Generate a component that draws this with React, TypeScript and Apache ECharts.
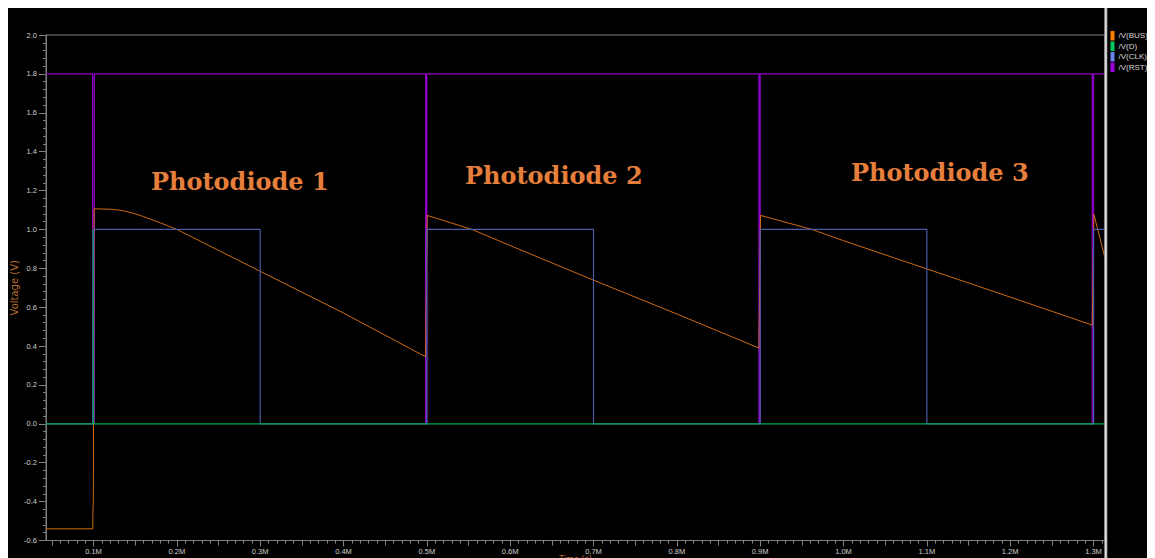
import React, { useEffect, useRef } from "react";
import * as echarts from "echarts";

// ---- axis ranges / ticks ----
const X_MIN = 0.043;
const X_MAX = 1.3138;
const Y_MIN = -0.6;
const Y_MAX = 2.0;
const Y_STEP = 0.2;

const xMajorTicks = [0.1, 0.2, 0.3, 0.4, 0.5, 0.6, 0.7, 0.8, 0.9, 1.0, 1.1, 1.2, 1.3];
const xMidTicks = [0.05, 0.15, 0.25, 0.35, 0.45, 0.55, 0.65, 0.75, 0.85, 0.95, 1.05, 1.15, 1.25];
const xMinorTicks: number[] = [];
for (let i = 5; i <= 131; i++) {
  if (i % 5 !== 0) xMinorTicks.push(Number((i / 100).toFixed(2)));
}

// ---- series ----
const seriesNames = ["/V(BUS)", "/V(D)", "/V(CLK)", "/V(RST)"];
const legendColors = ["#ff8000", "#00c864", "#6a82f0", "#a000e0"];
const lineColors = ["#d06a10", "#00a854", "#4a5aa6", "#9200cc"];

const busPoints = [
  [0.043, -0.54], [0.0992, -0.54], [0.0992, -0.47], [0.0998, -0.47], [0.0998, -0.4],
  [0.1006, -0.4], [0.1006, 1.106], [0.12, 1.104], [0.13, 1.1], [0.14, 1.092],
  [0.15, 1.08], [0.16, 1.066], [0.17, 1.05], [0.18, 1.034], [0.19, 1.017],
  [0.2, 1.0], [0.3, 0.785], [0.4, 0.57], [0.4985, 0.345],
  [0.5005, 1.072], [0.554, 1.0], [0.6, 0.917], [0.7, 0.739], [0.8, 0.565], [0.8985, 0.39],
  [0.9005, 1.072], [0.962, 1.0], [1.0, 0.942], [1.1, 0.797], [1.2, 0.652], [1.2985, 0.508],
  [1.3005, 1.077], [1.3138, 0.853],
];

const dPoints = [
  [0.043, 0], [0.0995, 0], [0.0995, 1.0], [0.1002, 1.0], [0.1002, 0], [1.3138, 0],
];

const clkPoints = [
  [0.043, 0], [0.1, 0], [0.1, 1], [0.3, 1], [0.3, 0], [0.5, 0], [0.5, 1], [0.7, 1],
  [0.7, 0], [0.9, 0], [0.9, 1], [1.1, 1], [1.1, 0], [1.3, 0], [1.3, 1], [1.3138, 1],
];

const rstPoints = [
  [0.043, 1.8], [0.099, 1.8], [0.099, 0], [0.101, 0], [0.101, 1.8],
  [0.4985, 1.8], [0.4985, 0], [0.5, 0], [0.5, 1.8],
  [0.8985, 1.8], [0.8985, 0], [0.9, 0], [0.9, 1.8],
  [1.2985, 1.8], [1.2985, 0], [1.3, 0], [1.3, 1.8], [1.3138, 1.8],
];

const annotations = ["Photodiode 1", "Photodiode 2", "Photodiode 3"];

const AXIS_GRAY = "#808080";
const LABEL_GRAY = "#d0d0d0";
const NAME_ORANGE = "#b86c2c";

export default function App() {
  const ref = useRef<HTMLDivElement>(null);

  useEffect(() => {
    document.documentElement.style.overflow = "hidden";
    const chart = echarts.init(ref.current!, null, { renderer: "svg" });

    const baseX = {
      type: "value",
      min: X_MIN,
      max: X_MAX,
      position: "bottom",
      offset: 0,
      splitLine: { show: false },
    };

    const option: any = {
      animation: false,
      backgroundColor: "#000000",
      grid: {
        left: 38,
        top: 27,
        right: 50,
        bottom: 17.5,
        show: true,
        backgroundColor: "#000000",
        borderColor: AXIS_GRAY,
        borderWidth: 1,
        containLabel: false,
        outerBoundsMode: "none",
      },
      legend: {
        orient: "vertical",
        left: 1102.5,
        top: 23,
        padding: 0,
        itemWidth: 4,
        itemHeight: 9.5,
        itemGap: 1,
        icon: "rect",
        selectedMode: false,
        itemStyle: { borderWidth: 0 },
        textStyle: { color: "#d8d8d8", fontSize: 8, fontFamily: "Liberation Sans", padding: [0, 0, 0, -1] },
        data: seriesNames.map((n, i) => ({ name: n, itemStyle: { color: legendColors[i], borderWidth: 0 } })),
      },
      xAxis: [
        {
          ...baseX,
          name: "Time (s)",
          nameLocation: "middle",
          nameGap: 15,
          nameMoveOverlap: false,
          nameTextStyle: { color: NAME_ORANGE, fontSize: 8, fontFamily: "DejaVu Sans" },
          axisLine: { show: true, onZero: false, lineStyle: { color: AXIS_GRAY, width: 1 } },
          axisTick: { show: true, length: 6, customValues: xMajorTicks, lineStyle: { color: AXIS_GRAY } },
          axisLabel: {
            show: true,
            customValues: xMajorTicks,
            margin: 7,
            color: LABEL_GRAY,
            fontSize: 7.5,
            fontFamily: "Liberation Sans",
            formatter: (v: number) => v.toFixed(1) + "M",
          },
        },
        {
          ...baseX,
          axisLine: { show: false, onZero: false },
          axisTick: { show: true, length: 5, customValues: xMidTicks, lineStyle: { color: AXIS_GRAY } },
          axisLabel: { show: false },
        },
        {
          ...baseX,
          axisLine: { show: false, onZero: false },
          axisTick: { show: true, length: 3, customValues: xMinorTicks, lineStyle: { color: AXIS_GRAY } },
          axisLabel: { show: false },
        },
      ],
      yAxis: {
        type: "value",
        min: Y_MIN,
        max: Y_MAX,
        interval: Y_STEP,
        name: "Voltage (V)",
        nameLocation: "middle",
        nameGap: 27,
        nameMoveOverlap: false,
        nameTextStyle: { color: NAME_ORANGE, fontSize: 10, fontFamily: "DejaVu Sans" },
        axisLine: { show: true, onZero: false, lineStyle: { color: AXIS_GRAY, width: 1 } },
        axisTick: { show: true, length: 7, lineStyle: { color: AXIS_GRAY } },
        minorTick: { show: true, splitNumber: 5, length: 3, lineStyle: { color: AXIS_GRAY } },
        splitLine: { show: false },
        axisLabel: {
          margin: 9,
          color: LABEL_GRAY,
          fontSize: 7.5,
          fontFamily: "Liberation Sans",
          formatter: (v: number) => v.toFixed(1),
        },
      },
      series: [
        { name: seriesNames[3], data: rstPoints, color: lineColors[3], lineStyle: { color: lineColors[3], width: 1.2 }, z: 2 },
        { name: seriesNames[0], data: busPoints, color: lineColors[0], lineStyle: { color: lineColors[0], width: 1 }, z: 3 },
        { name: seriesNames[2], data: clkPoints, color: lineColors[2], lineStyle: { color: lineColors[2], width: 1.2 }, z: 4 },
        { name: seriesNames[1], data: dPoints, color: lineColors[1], lineStyle: { color: lineColors[1], width: 1.2 }, z: 5 },
      ].map((s) => ({
        ...s,
        type: "line",
        xAxisIndex: 0,
        showSymbol: false,
        symbol: "none",
        clip: true,
        silent: true,
      })),
      graphic: [
        ...annotations.map((t, i) => ({
          type: "text",
          x: [143, 457, 843][i],
          y: [173.7, 167.7, 164.7][i],
          z: 50,
          style: {
            text: t,
            fill: "#e67e3c",
            fontSize: 24,
            fontWeight: "bold",
            fontFamily: "DejaVu Serif",
            align: "left",
            verticalAlign: "middle",
          },
        })),
        { type: "rect", z: 60, shape: { x: 1096.3, y: 0, width: 3, height: 560 }, style: { fill: "#a8a8a8" } },
        { type: "rect", z: 61, shape: { x: 1097.2, y: 0, width: 1.2, height: 560 }, style: { fill: "#e8e8e8" } },
      ],
    };

    chart.setOption(option);
    return () => chart.dispose();
  }, []);

  return <div ref={ref} style={{ width: 1147, height: 550, background: "#000" }} />;
}
